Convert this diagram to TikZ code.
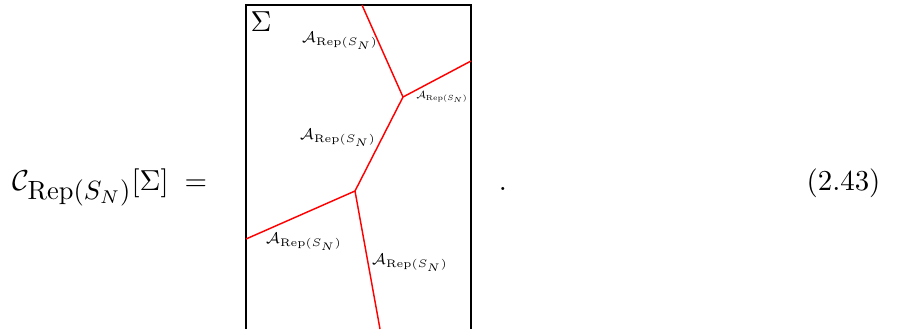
\documentclass[tikz,border=0pt]{standalone}
\usepackage{amsmath}
\usepackage{amssymb}
\usepackage{tikz}
\usetikzlibrary{positioning}

\newcommand{\repA}[1]{\scalebox{#1}{$\mathcal{A}_{\mathrm{Rep}(S_N)}$}}
\newcommand{\repsub}{\text{\fontsize{10}{12}\selectfont Rep$(S_N)$}}

\begin{document}
\begin{tikzpicture}[
  x=0.3788pt, y=-0.3788pt,
  font=\fontsize{10.95}{13.6}\selectfont,
  frame/.style={draw=black, line width=0.4pt},
  wall/.style={draw=red, line width=0.55pt},
  lab/.style={inner sep=0pt, font=\scriptsize}
]
\useasboundingbox (0,0) rectangle (909,329);
%% equation line
\node[anchor=base west, inner sep=0pt] (lhs)  at (12,190)  {$\displaystyle \mathcal{C}_{\repsub}[\Sigma]\; =$};
\node[anchor=base, inner sep=0pt]      (dot)  at (503,190) {.};
\node[anchor=base east, inner sep=0pt] (eqno) at (881,190) {(2.43)};
%% surface frame (open at the bottom)
\coordinate (tl) at (246,5);
\coordinate (tr) at (471,5);
\coordinate (bl) at (246,329);
\coordinate (br) at (471,329);
\draw[frame] (bl) -- (tl) -- (tr) -- (br);
\node[inner sep=0pt] (sig) at (261,22) {$\Sigma$};
%% trivalent network
\coordinate (vA) at (403,97);
\coordinate (vB) at (355,191);
\coordinate (eT) at (362,5);
\coordinate (eR) at (471,61);
\coordinate (eL) at (246,239);
\coordinate (eD) at (380,329);
\draw[wall] (eT) -- (vA);
\draw[wall] (eR) -- (vA);
\draw[wall] (vA) -- (vB);
\draw[wall] (eL) -- (vB);
\draw[wall] (vB) -- (eD);
%% labels
\node[lab] (a1) at (340,41)  {\repA{0.83}};
\node[lab] (a2) at (442,97)  {\repA{0.56}};
\node[lab] (a3) at (338,138) {\repA{0.83}};
\node[lab] (a4) at (304,242) {\repA{0.83}};
\node[lab] (a5) at (410,263) {\repA{0.83}};
\end{tikzpicture}
\end{document}
